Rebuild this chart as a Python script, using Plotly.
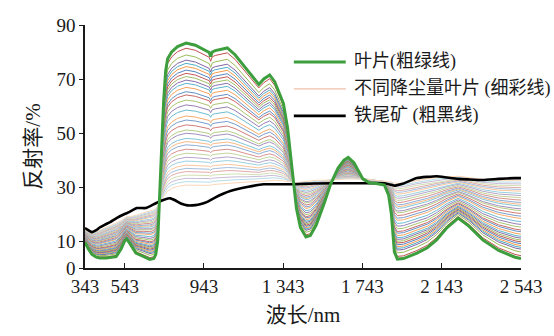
import numpy as np
import plotly.graph_objects as go

# ---- data ----
wl = [343, 360, 378, 400, 417, 450, 500, 525, 543, 553, 570, 600, 640, 670, 690,
      700, 710, 720, 730, 740, 750, 760, 780, 810, 853, 900, 950, 970, 977, 985,
      1000, 1061, 1100, 1161, 1190, 1220, 1245, 1275, 1300, 1344, 1365, 1380, 1393,
      1410, 1430, 1458, 1480, 1510, 1550, 1582, 1620, 1650, 1671, 1700, 1745, 1780,
      1805, 1854, 1875, 1889, 1904, 1919, 1950, 2018, 2070, 2117, 2170, 2226, 2280,
      2350, 2430, 2513, 2543]

# clean leaf (thick green)
leaf = [9.5, 7.0, 5.0, 4.0, 3.7, 3.7, 4.2, 7.0, 10.0, 10.8, 9.0, 5.5, 4.2, 3.2, 3.5,
        5.0, 10.0, 25.0, 45.0, 62.0, 73.0, 77.5, 80.0, 82.0, 83.3, 82.5, 80.5, 79.8, 78.3, 80.0,
        80.5, 81.5, 79.0, 73.3, 70.5, 68.0, 70.0, 71.5, 69.0, 61.0, 52.0, 42.0, 32.0,
        22.0, 15.0, 11.5, 12.0, 16.0, 24.0, 31.0, 37.0, 40.0, 41.0, 39.0, 33.0, 31.5,
        31.4, 30.7, 27.0, 20.0, 6.0, 3.3, 3.5, 5.5, 7.5, 10.4, 15.0, 18.5, 15.5,
        10.4, 6.5, 4.0, 3.5]

# most dust-covered leaf (palest thin line)
dusty = [15.0, 14.0, 13.5, 13.5, 14.0, 15.0, 16.5, 17.5, 18.5, 19.0, 19.0, 19.5, 20.5, 21.0, 21.5,
         22.0, 23.0, 24.0, 25.5, 26.5, 27.5, 28.5, 29.5, 30.2, 30.7, 30.7, 30.8, 30.8, 30.6, 30.9,
         31.0, 31.3, 31.5, 31.8, 32.0, 32.0, 32.2, 32.4, 32.5, 32.3, 32.0, 31.7, 31.5,
         31.5, 31.8, 32.0, 32.3, 32.5, 32.5, 32.5, 32.8, 33.0, 33.0, 33.0, 33.0, 32.8,
         32.5, 32.2, 32.0, 31.8, 31.5, 31.3, 31.5, 32.5, 33.0, 33.5, 33.8, 34.0, 33.5,
         32.8, 32.5, 32.5, 32.5]

# reflectance of each thin (dust-covered leaf) line on the NIR plateau (~853 nm)
thin_nir_levels = [81.4, 78.9, 77.0, 75.8, 74.6, 73.3, 72.1, 70.9, 69.6, 68.4, 66.9,
                   65.3, 64.1, 62.2, 60.4, 58.5, 56.3, 54.8, 53.0, 51.1, 49.9, 48.0,
                   46.8, 45.6, 44.0, 42.5, 41.0, 39.6, 38.1, 36.9, 35.7, 34.4, 33.2,
                   32.0, 30.7]

# iron tailings (thick black)
tail_wl = [343, 360, 378, 400, 417, 442, 470, 502, 543, 566, 605, 650, 700, 749, 774,
           800, 830, 860, 900, 928, 960, 997, 1040, 1076, 1161, 1245, 1393, 1500, 1700, 1854,
           1889, 1904, 1919, 1950, 2018, 2117, 2170, 2226, 2280, 2350, 2430, 2513, 2543]
tail = [14.8, 14.0, 13.3, 14.0, 15.0, 16.0, 17.0, 18.5, 20.0, 20.7, 22.2, 22.2, 24.0, 25.5, 25.8,
        25.0, 23.8, 23.2, 23.3, 23.7, 24.5, 26.0, 27.5, 28.5, 30.0, 31.0, 31.0, 31.3, 31.4, 31.4,
        30.8, 30.5, 30.7, 31.3, 33.3, 34.0, 33.5, 33.0, 32.8, 32.6, 33.0, 33.3, 33.3]

x_ticks = [343, 543, 943, 1343, 1743, 2143, 2543]
x_tick_text = ["343", "543", "943", "1 343", "1 743", "2 143", "2 543"]
y_ticks = [0, 10, 30, 50, 70, 90]

legend_names = ["叶片(粗绿线)", "不同降尘量叶片 (细彩线)", "铁尾矿 (粗黑线)"]

# ---- figure ----
palette = ["#C0504D", "#9BBB59", "#8064A2", "#4BACC6", "#F79646", "#4F81BD"]


def lighten(hex_color, t):
    h = hex_color.lstrip("#")
    r, g, b = (int(h[i:i + 2], 16) for i in (0, 2, 4))
    r = int(r + (255 - r) * t)
    g = int(g + (255 - g) * t)
    b = int(b + (255 - b) * t)
    return f"rgb({r},{g},{b})"


leaf_a = np.array(leaf)
dusty_a = np.array(dusty)
i853 = wl.index(853)
fig = go.Figure()
n = len(thin_nir_levels)
for k, lev in enumerate(thin_nir_levels):
    f = (leaf_a[i853] - lev) / (leaf_a[i853] - dusty_a[i853])
    yv = leaf_a + f * (dusty_a - leaf_a)
    t = 0.62 * (k / (n - 1)) ** 1.4
    fig.add_trace(go.Scatter(x=wl, y=yv, mode="lines", showlegend=False,
                             line=dict(color=lighten(palette[k % 6], t), width=1),
                             hoverinfo="skip"))

fig.add_trace(go.Scatter(x=tail_wl, y=tail, mode="lines", name=legend_names[2],
                         showlegend=False, line=dict(color="#000000", width=2.6, shape="spline", smoothing=0.4)))
fig.add_trace(go.Scatter(x=wl, y=leaf, mode="lines", name=legend_names[0],
                         showlegend=False, line=dict(color="#3C9E3C", width=3)))

font_num = "'Liberation Serif', 'Times New Roman', serif"
font_main = "'Liberation Serif', 'Noto Sans CJK SC', serif"

# manual legend (line samples + labels)
leg_y = [0.848, 0.737, 0.626]
leg_col = ["#3C9E3C", "#F2BFA8", "#000000"]
leg_w = [3, 1.2, 2.6]
for yy, c, w, name in zip(leg_y, leg_col, leg_w, legend_names):
    fig.add_shape(type="line", xref="paper", yref="paper", x0=0.479, x1=0.598,
                  y0=yy, y1=yy, line=dict(color=c, width=w))
    fig.add_annotation(xref="paper", yref="paper", x=0.612, y=yy, text=name,
                       showarrow=False, xanchor="left", yanchor="middle",
                       font=dict(family=font_main, size=18, color="#1a1a1a"))

fig.update_layout(
    width=554, height=336,
    margin=dict(l=85, r=24, t=25, b=68),
    paper_bgcolor="white", plot_bgcolor="white",
    font=dict(family=font_main, size=18, color="#1a1a1a"),
)
fig.update_xaxes(range=[343, 2543], tickvals=x_ticks, ticktext=x_tick_text,
                 showline=True, linecolor="#1a1a1a", linewidth=1.5,
                 ticks="inside", ticklen=5, tickwidth=1.2, tickcolor="#1a1a1a",
                 showgrid=False, zeroline=False,
                 tickfont=dict(size=19, family=font_num),
                 title=dict(text="波长/nm", font=dict(size=21, family=font_main), standoff=12))
fig.update_yaxes(range=[0, 90], tickvals=y_ticks,
                 showline=True, linecolor="#1a1a1a", linewidth=1.5,
                 ticks="outside", ticklen=4, tickwidth=1.2, tickcolor="#1a1a1a",
                 showgrid=False, zeroline=False,
                 tickfont=dict(size=19, family=font_num),
                 title=dict(text="反射率/%", font=dict(size=21, family=font_main), standoff=10))

fig.write_html("out.html")
